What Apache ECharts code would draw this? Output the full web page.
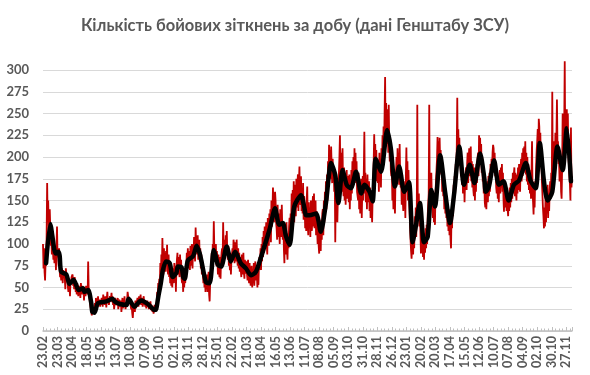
<!DOCTYPE html>
<html><head><meta charset="utf-8">
<script src="https://cdn.jsdelivr.net/npm/echarts@6/dist/echarts.min.js"></script>
<style>html,body{margin:0;padding:0;background:#fff}#c{width:590px;height:375px}</style>
</head><body><div id="c"></div>
<script>
const titleText = 'Кількість бойових зіткнень за добу (дані Генштабу ЗСУ)';
const startDate = [2023, 2, 23];
const labelStepDays = 28;
const yTicks = { min: 0, max: 300, step: 25 };

// Daily number of clashes (one value per day, from 23.02.2023)
const dailyClashes = [
100,72,95,68,58,80,75,110,170,125,150,118,105,140,120,98,112,88,104,95,82,100,78,92,85,70,98,120,
85,90,75,95,70,62,68,58,72,66,55,70,62,68,60,48,72,65,58,62,50,45,60,52,40,58,55,62,
60,65,52,58,48,62,55,45,50,42,55,48,40,52,45,50,38,55,47,42,52,45,48,35,50,44,40,52,
45,50,42,80,48,40,35,30,28,22,18,25,20,22,18,28,32,25,38,30,35,28,40,32,30,36,28,34,
30,38,35,28,42,33,36,30,40,34,27,38,45,32,36,30,28,40,35,38,44,33,40,30,36,25,32,38,
35,30,28,34,38,25,30,36,28,32,35,22,30,38,26,33,28,40,30,25,32,28,35,45,40,38,42,35,
32,30,25,28,20,15,25,30,28,22,35,26,30,32,38,34,28,40,36,32,42,30,38,35,28,33,40,30,
35,28,32,26,30,35,28,32,25,30,28,34,24,30,26,22,28,20,25,30,22,28,25,32,45,40,55,48,
60,52,78,62,88,72,107,78,65,95,72,90,68,92,76,99,70,65,88,62,80,55,76,52,70,50,66,72,
55,78,62,75,45,72,82,90,65,85,70,62,88,68,82,60,55,62,45,70,50,66,55,75,72,90,78,95,
80,72,92,70,98,75,90,100,72,95,85,108,90,80,119,98,105,88,110,82,100,105,80,95,72,88,65,78,
65,55,72,50,62,45,60,48,65,45,58,68,42,34,55,65,75,90,72,100,85,126,95,88,80,100,75,92,
80,65,88,68,62,85,60,82,90,95,78,125,92,82,105,88,110,95,115,90,82,98,75,90,70,88,65,82,
88,95,82,105,100,78,102,85,80,105,85,75,95,72,90,68,85,70,62,88,72,65,90,68,60,82,66,72,
80,65,58,82,62,55,78,60,52,68,75,50,70,55,78,52,68,80,58,75,65,50,62,53,78,85,70,95,
70,100,80,108,85,115,90,120,95,110,125,100,88,130,105,98,135,112,140,102,150,120,138,165,140,125,155,160,
150,125,118,105,145,108,135,115,100,140,118,108,145,115,105,125,95,78,120,100,88,125,92,82,112,95,120,130,
110,135,125,158,130,162,135,172,125,155,168,132,175,142,165,180,138,172,189,150,145,178,138,162,135,170,128,155,
145,118,140,115,152,166,122,110,148,120,142,108,150,122,115,145,155,120,158,118,140,150,110,138,118,100,125,98,
89,115,125,92,128,105,135,140,110,150,125,160,138,172,140,180,150,195,168,214,182,208,175,212,190,170,198,175,
185,160,178,102,158,128,162,125,155,168,182,200,225,172,205,160,195,210,165,155,188,150,180,145,175,185,152,178,
172,148,180,140,175,150,185,158,195,165,200,168,210,172,205,170,195,160,158,150,182,140,170,135,165,175,130,160,
178,150,185,229,158,182,148,175,140,180,152,148,172,138,165,130,158,140,125,155,170,195,226,185,215,180,208,172,
198,170,192,160,205,172,195,165,210,188,225,195,235,208,250,292,220,262,228,215,255,205,260,212,195,220,185,178,
185,150,172,140,178,150,135,175,182,200,172,210,178,205,168,215,180,165,175,145,180,150,138,172,140,165,130,178,
211,165,195,150,185,155,140,120,105,92,83,100,112,88,118,95,132,110,142,108,138,260,135,128,158,120,148,115,
89,118,90,112,85,108,82,112,90,118,95,122,100,132,145,158,260,150,178,145,182,150,140,130,158,125,152,122,
158,172,185,198,223,190,218,185,222,195,208,180,195,160,185,155,168,140,172,135,162,130,155,120,145,115,140,110,
128,105,95,138,118,152,132,168,148,178,158,192,185,210,268,200,232,198,222,190,202,178,198,168,188,158,168,178,
148,172,182,188,162,192,205,170,198,210,178,202,212,172,195,165,192,162,155,188,150,182,160,192,170,198,205,178,
225,198,222,192,215,182,200,172,182,158,178,148,142,170,140,165,172,148,178,155,182,160,192,170,198,185,205,214,
210,182,205,178,188,165,158,182,152,175,148,178,185,158,188,165,192,160,182,152,137,172,150,142,168,138,160,140,
132,158,138,165,142,170,148,175,152,182,158,180,188,155,182,160,150,180,158,188,162,192,168,160,188,198,172,205,
178,210,182,212,188,218,180,205,172,200,168,192,162,185,158,180,152,182,218,160,148,134,168,142,172,162,192,208,
218,232,198,244,235,208,228,192,202,172,158,142,132,118,142,120,155,125,162,135,168,130,158,138,162,172,152,182,
160,275,178,210,182,218,188,228,198,222,266,215,218,192,198,172,182,192,160,152,188,250,185,218,235,310,210,248,
228,255,212,250,200,192,178,168,150,234,165,178
];

// Moving average (black line), read at these day offsets
const maDays = [6,14,19,22,25,29,32,35,45,51,
59,69,77,80,87,93,95,99,106,122,
134,138,148,161,165,176,189,202,215,218,
222,227,231,237,244,250,257,260,267,270,
273,279,289,296,302,305,314,321,329,333,
337,343,354,362,370,381,391,401,410,420,
430,437,447,455,462,468,475,484,497,503,
507,513,526,535,545,555,563,569,577,585,
593,603,613,619,629,635,641,651,663,670,
678,686,696,705,712,718,726,734,741,748,
755,765,775,784,792,802,811,822,831,842,
850,853,859,869,878,887,897,907,917,930,
939,949,957,965,972,981,991,1001,1009,1017];
const maValues = [78,123,105,93,89,91,87,68,65,54,
59,47,49,45,47,32,22,21,32,34,
37,34,31,30,37,28,35,31,24,25,
39,55,70,80,78,62,67,74,73,62,
60,81,86,98,89,81,56,55,93,85,
76,74,97,80,91,78,72,64,68,85,
104,118,141,122,124,109,99,143,156,143,
133,133,135,114,147,193,179,147,185,168,
164,183,158,168,160,149,198,183,231,210,
166,189,160,171,102,120,147,102,108,162,
143,202,158,124,158,212,168,191,170,204,
176,160,166,196,168,172,150,168,173,193,
173,164,216,172,150,160,212,185,233,172];

const FONT = 'Lato, "Liberation Sans", sans-serif';
const TXT = '#595959';
const t0 = Date.UTC(startDate[0], startDate[1]-1, startDate[2]);
function dayLabel(v){
  const d = new Date(t0 + Math.round(v)*86400000);
  const dd = String(d.getUTCDate()).padStart(2,'0');
  const mm = String(d.getUTCMonth()+1).padStart(2,'0');
  return dd + '.' + mm;
}

const chart = echarts.init(document.getElementById('c'), null, {renderer:'canvas'});
chart.setOption({
  animation: false,
  backgroundColor: '#fff',
  title: {
    text: titleText, left: 'center', top: 12,
    textStyle: {fontFamily: FONT, fontSize: 16.5, fontWeight: 'bold', color: TXT}
  },
  grid: {left: 43, right: 18, top: 70, bottom: 44, containLabel: false},
  xAxis: {
    type: 'value', min: 0, max: dailyClashes.length - 1, interval: labelStepDays,
    axisLine: {show: true, onZero: false, lineStyle: {color: '#bfbfbf', width: 1.5}},
    axisTick: {show: true, inside: true, length: 4, lineStyle: {color: '#bfbfbf', width: 1}},
    minorTick: {show: true, splitNumber: 4, length: 2.5, lineStyle: {color: '#bfbfbf', width: 1}},
    splitLine: {show: false},
    axisLabel: {
      rotate: 90, margin: 5, color: TXT, fontSize: 12.5, fontWeight: 'bold', fontFamily: FONT,
      showMaxLabel: false, formatter: dayLabel
    }
  },
  yAxis: {
    type: 'value', min: yTicks.min, max: yTicks.max, interval: yTicks.step,
    axisLine: {show: false}, axisTick: {show: false},
    splitLine: {lineStyle: {color: '#d9d9d9', width: 1}},
    axisLabel: {margin: 14, color: TXT, fontSize: 13, fontWeight: 'bold', fontFamily: FONT}
  },
  series: [
    {
      type: 'line', name: 'daily', data: dailyClashes.map((v, i) => [i, v]),
      showSymbol: false, symbol: 'none', sampling: null, z: 2, clip: false,
      lineStyle: {color: '#c00000', width: 1.8}
    },
    {
      type: 'line', name: 'ma', data: maDays.map((d, i) => [d, maValues[i]]),
      showSymbol: false, symbol: 'none', smooth: 0.25, z: 3,
      lineStyle: {color: '#000000', width: 4.5, join: 'round', cap: 'round'}
    }
  ]
});
</script>
</body></html>
